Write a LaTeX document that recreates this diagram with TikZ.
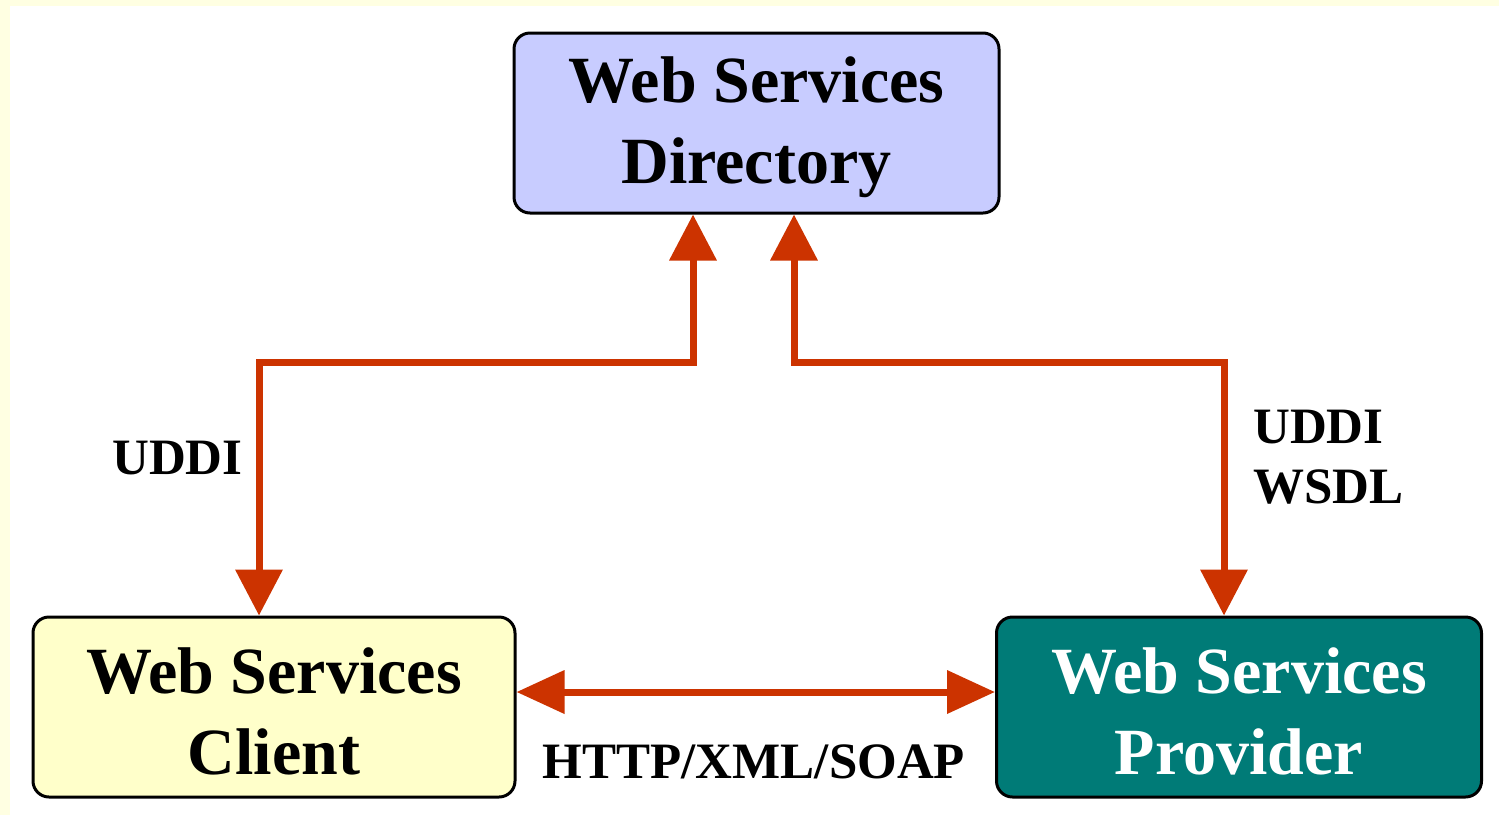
\documentclass[tikz,border=0pt]{standalone}
\usepackage{fontspec}
\setmainfont{Liberation Serif}
\usetikzlibrary{arrows.meta}
\definecolor{cream}{HTML}{FFFFE2}
\definecolor{dirfill}{HTML}{C8CCFF}
\definecolor{clifill}{HTML}{FFFFCA}
\definecolor{provfill}{HTML}{007B77}
\definecolor{arrcol}{HTML}{CC3300}
\tikzset{
  boxnode/.style={draw=black, line width=3pt, rounded corners=16pt, minimum width=482pt, minimum height=180pt, inner sep=0pt},
  boxtext/.style={align=center, inner sep=0pt, font=\fontsize{66}{81}\selectfont\bfseries},
  arr/.style={draw=arrcol, line width=7pt, {Triangle[length=46pt,width=46pt]}-{Triangle[length=46pt,width=46pt]}},
  harr/.style={draw=arrcol, line width=7pt, {Triangle[length=48pt,width=42pt]}-{Triangle[length=48pt,width=42pt]}},
  lbl/.style={font=\fontsize{51}{60}\selectfont\bfseries, inner sep=0pt, align=left}
}
\begin{document}
\begin{tikzpicture}[x=1pt,y=-1pt]
\useasboundingbox (0,0) rectangle (1499,815);
\fill[cream] (0,0) rectangle (1499,815);
\fill[white] (10,6) rectangle (1499,815);
\node[boxnode, fill=dirfill, minimum width=485pt] (dir) at (756.5,123) {};
\node[boxnode, fill=clifill] (cli) at (274,707) {};
\node[boxnode, fill=provfill, minimum width=485pt] (prov) at (1239,707) {};
\node[boxtext] (dirt) at ([yshift=-4pt]dir.center) {Web Services\\Directory};
\node[boxtext] (clit) at ([yshift=-4pt]cli.center) {Web Services\\Client};
\node[boxtext, text=white] (provt) at ([yshift=-4pt]prov.center) {Web Services\\Provider};
\coordinate (a1) at (259,362);
\coordinate (a2) at (693,362);
\coordinate (b1) at (794,362);
\coordinate (b2) at (1224,362);
\coordinate (h) at (0,692);
\draw[arr] (cli.north -| a1) -- (a1) -- (a2) -- (dir.south -| a2);
\draw[arr] (dir.south -| b1) -- (b1) -- (b2) -- (prov.north -| b2);
\draw[harr] (cli.east |- h) -- (prov.west |- h);
\node[lbl, anchor=west] (l1) at (112,458) {UDDI};
\node[lbl, anchor=north west] (l2) at (1253,410) {UDDI\\WSDL};
\node[lbl] (l3) at (754,762) {HTTP/XML/SOAP};
\end{tikzpicture}
\end{document}
